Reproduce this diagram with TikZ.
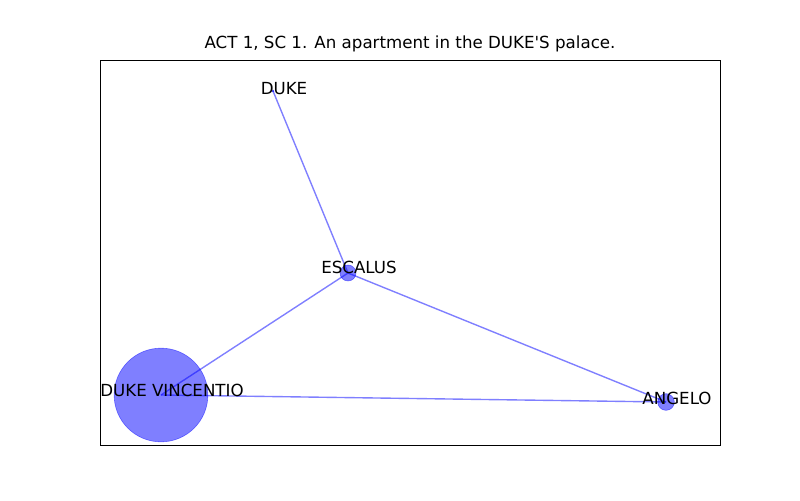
\documentclass[tikz,border=0pt]{standalone}
\usepackage{fontspec}
\setmainfont{DejaVu Sans}[Ligatures=TeXOff]
\usepackage{tikz}

\begin{document}
\begin{tikzpicture}[x=0.72pt, y=-0.72pt]
\tikzstyle{every node}=[font=\fontsize{12}{14}\selectfont]
\tikzstyle{char}=[circle, fill=blue, draw=blue, fill opacity=0.5, draw opacity=0.5, inner sep=0pt]
\tikzstyle{chartext}=[anchor=base, inner sep=0pt]
\tikzstyle{link}=[draw=blue, opacity=0.5, line width=1pt]
\useasboundingbox (0,0) rectangle (800,500);
\draw[line width=0.6pt] (100,60) rectangle (720,445);
\node[chartext](title) at (410,48){ACT 1, SC 1. An apartment in the DUKE'S palace.};
   \node[char, minimum size=1.5pt](duke) at (273,91){};
   \node[char, minimum size=11.5pt](escalus) at (348,273){};
   \node[char, minimum size=67.5pt](vincentio) at (161,395){};
   \node[char, minimum size=12pt](angelo) at (666,402){};
   \path[link](duke.center) edge (escalus.center);
   \path[link](escalus.center) edge (vincentio.center);
   \path[link](escalus.center) edge (angelo.center);
   \path[link](vincentio.center) edge (angelo.center);
\node[chartext](dukelbl) at (284,94){DUKE};
\node[chartext](escaluslbl) at (359,273){ESCALUS};
\node[chartext](vincentiolbl) at (172,396){DUKE VINCENTIO};
\node[chartext](angelolbl) at (677,404){ANGELO};
\end{tikzpicture}
\end{document}
